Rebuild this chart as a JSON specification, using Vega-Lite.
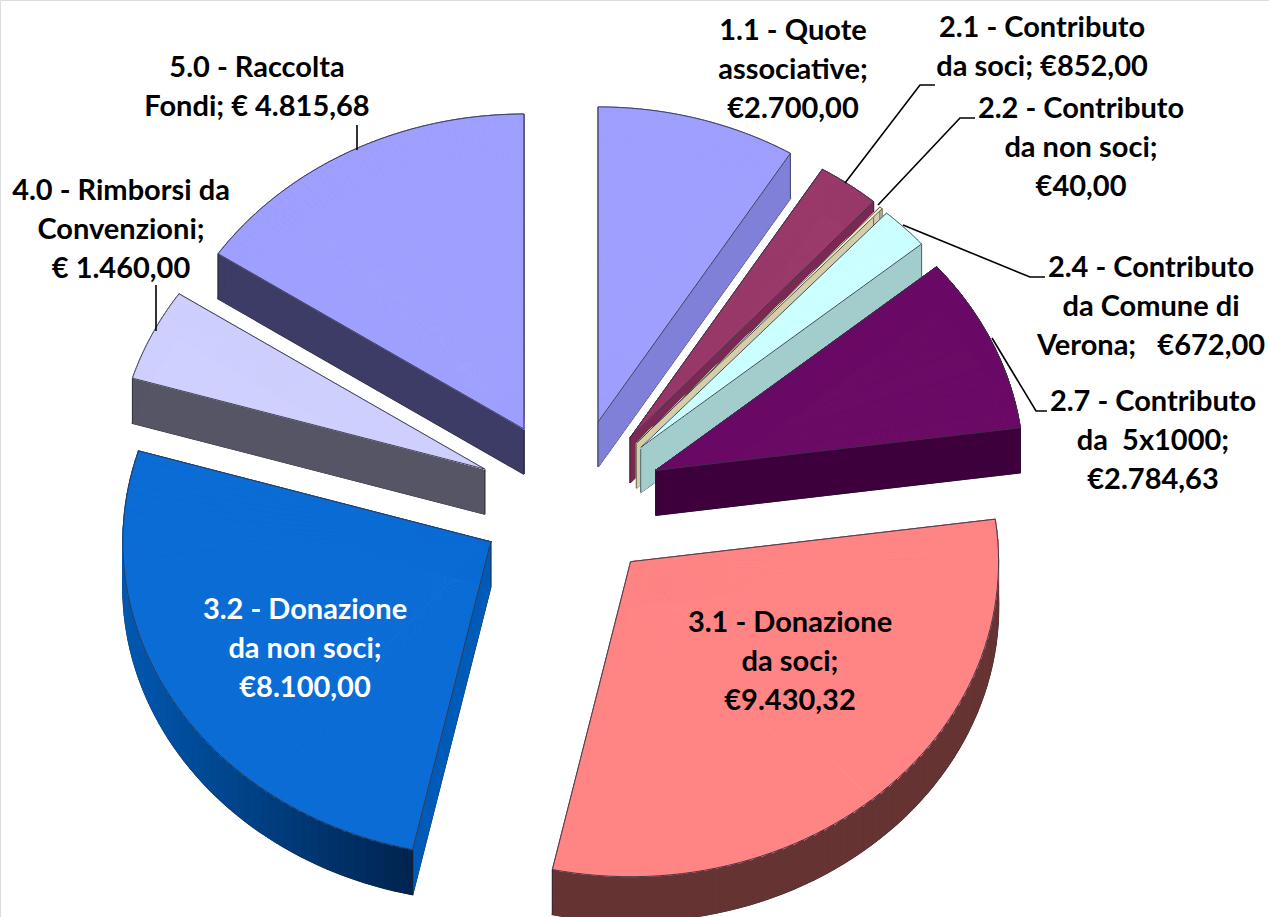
{
"$schema":"https://vega.github.io/schema/vega-lite/v6.json",
"width":1269,"height":917,"padding":0,"autosize":{"type":"none"},
"background":"white",
"data":{"values":[
{"code":"1.1","label":"1.1 - Quote\nassociative;\n€2.700,00","value":2700},
{"code":"2.1","label":"2.1 - Contributo\nda soci; €852,00","value":852},
{"code":"2.2","label":"2.2 - Contributo\nda non soci;\n€40,00","value":40},
{"code":"2.4","label":"2.4 - Contributo\nda Comune di\nVerona;\u00a0\u00a0 €672,00","value":672},
{"code":"2.7","label":"2.7 - Contributo\nda\u00a0 5x1000;\n€2.784,63","value":2784.63},
{"code":"3.1","label":"3.1 - Donazione\nda soci;\n€9.430,32","value":9430.32},
{"code":"3.2","label":"3.2 - Donazione\nda non soci;\n€8.100,00","value":8100},
{"code":"4.0","label":"4.0 - Rimborsi da\nConvenzioni;\n€ 1.460,00","value":1460},
{"code":"5.0","label":"5.0 - Raccolta\nFondi; € 4.815,68","value":4815.68}
]},
"transform":[
{"window":[{"op":"sum","field":"value","as":"cum"}],"sort":[{"field":"code"}],"frame":[null,0]},
{"joinaggregate":[{"op":"sum","field":"value","as":"total"}]},
{"calculate":"2*PI*(datum.cum-datum.value)/datum.total","as":"t0"},
{"calculate":"min(2*PI*datum.cum/datum.total,6.283185)","as":"t1"},
{"calculate":"atan2(1.168*sin(datum.t0),cos(datum.t0))","as":"d0"},
{"calculate":"atan2(1.168*sin(datum.t1),cos(datum.t1))","as":"d1"},
{"calculate":"(datum.d0<0?datum.d0+2*PI:datum.d0)/2+(datum.d1<0?datum.d1+2*PI:datum.d1)/2","as":"mid"},
{"calculate":"570+92*sin(datum.mid)","as":"ax"},
{"calculate":"500-82*cos(datum.mid)","as":"ay"},
{"calculate":"{'1.1':'#9f9fff','2.1':'#993a6a','2.2':'#f5f0c8','2.4':'#ccffff','2.7':'#6a0a66','3.1':'#ff8585','3.2':'#0a6cd4','4.0':'#d0d0ff','5.0':'#9f9fff'}[datum.code]","as":"topColor"},
{"calculate":"{'1.1':'#8080d8','2.1':'#7a2a52','2.2':'#d4cea6','2.4':'#a3cccc','2.7':'#3d003d','3.1':'#663333','3.2':'#005bb8','4.0':'#555566','5.0':'#3c3c66'}[datum.code]","as":"sideColor"}
],
"layer":[
{
"transform":[
{"calculate":"[-1,0,1,2,3,4,5,6,7,8,9,10,11,12,13,14,15,16,17,18,19,20,21,22,23,24,25,26,27,28,29,30,31,32,33,34,35,36,37,38,39,40,41,42,43,44,45,46,47,48,49,50,51,52,53,54,55,56,57,58,59,60]","as":"p"},
{"flatten":["p"]},
{"calculate":"[0,1]","as":"k"},
{"flatten":["k"]},
{"calculate":"datum.p+datum.k","as":"q"},
{"calculate":"datum.t0+(datum.t1-datum.t0)*clamp(datum.q,0,60)/60","as":"ta"},
{"calculate":"datum.t0+(datum.t1-datum.t0)*clamp(datum.q+1,0,60)/60","as":"tb"},
{"calculate":"(datum.q<0||datum.q>60)?datum.ax:datum.ax+368*sin(datum.ta)","as":"rx"},
{"calculate":"(datum.q<0||datum.q>60)?datum.ay:datum.ay-315*cos(datum.ta)","as":"ry"},
{"calculate":"datum.ry+45","as":"ry2"},
{"calculate":"atan2(1.168*sin(datum.ta),cos(datum.ta))","as":"ang0raw"},
{"calculate":"atan2(1.168*sin(datum.tb),cos(datum.tb))","as":"ang1raw"},
{"calculate":"datum.ang0raw<0?datum.ang0raw+2*PI:datum.ang0raw","as":"ang0"},
{"calculate":"datum.ang1raw<0?datum.ang1raw+2*PI:datum.ang1raw","as":"ang1"},
{"calculate":"sqrt(pow(368*sin((datum.ta+datum.tb)/2),2)+pow(315*cos((datum.ta+datum.tb)/2),2))","as":"rad"},
{"calculate":"clamp((datum.ax+368*sin(datum.t0+(datum.t1-datum.t0)*clamp(datum.p,0,60)/60)-126)/288,0,1)","as":"gr"},
{"calculate":"(datum.code=='3.2'&&datum.p>=0&&datum.p<60)?('rgb(0,'+round(88-52*datum.gr)+','+round(176-96*datum.gr)+')'):datum.sideColor","as":"wallColor"}
],
"layer":[
{"transform":[{"filter":"datum.k==0||datum.p==60"}],
 "mark":{"type":"line","color":"#222222","strokeWidth":1.4},
 "encoding":{
  "x":{"field":"rx","type":"quantitative","scale":{"domain":[0,1269],"range":[0,1269],"nice":false,"zero":false},"axis":null},
  "y":{"field":"ry2","type":"quantitative","scale":{"domain":[0,917],"range":[0,917],"nice":false,"zero":false},"axis":null},
  "order":{"field":"q","type":"quantitative"},
  "detail":{"field":"code"}
 }},
{"mark":{"type":"area","strokeWidth":1},
 "encoding":{
  "x":{"field":"rx","type":"quantitative","scale":{"domain":[0,1269],"range":[0,1269],"nice":false,"zero":false},"axis":null},
  "y":{"field":"ry","type":"quantitative","scale":{"domain":[0,917],"range":[0,917],"nice":false,"zero":false},"axis":null},
  "y2":{"field":"ry2"},
  "detail":[{"field":"code"},{"field":"p"}],
  "fill":{"field":"wallColor","type":"nominal","scale":null,"legend":null},
  "stroke":{"field":"wallColor","type":"nominal","scale":null,"legend":null}
 }},
{"transform":[{"filter":"datum.k==0&&(datum.p==0||datum.p==-1)||datum.k==1&&datum.p==59"}],
 "mark":{"type":"rule","color":"#222222","strokeWidth":0.6},
 "encoding":{
  "x":{"field":"rx","type":"quantitative","scale":{"domain":[0,1269],"range":[0,1269],"nice":false,"zero":false},"axis":null},
  "y":{"field":"ry","type":"quantitative","scale":{"domain":[0,917],"range":[0,917],"nice":false,"zero":false},"axis":null},
  "y2":{"field":"ry2"}
 }},
{"transform":[{"filter":"datum.k==0&&datum.p>=0&&datum.p<60"}],
 "mark":{"type":"arc","strokeWidth":1},
 "encoding":{
  "x":{"field":"ax","type":"quantitative","scale":{"domain":[0,1269],"range":[0,1269],"nice":false,"zero":false},"axis":null},
  "y":{"field":"ay","type":"quantitative","scale":{"domain":[0,917],"range":[0,917],"nice":false,"zero":false},"axis":null},
  "theta":{"field":"ang0","type":"quantitative","scale":{"domain":[0,6.283185307179586],"range":[0,6.283185307179586]}},
  "theta2":{"field":"ang1"},
  "radius":{"field":"rad","type":"quantitative","scale":{"type":"linear","domain":[0,500],"range":[0,500]}},
  "fill":{"field":"topColor","type":"nominal","scale":null,"legend":null},
  "stroke":{"field":"topColor","type":"nominal","scale":null,"legend":null}
 }},
{"transform":[{"filter":"datum.k==0||datum.p==60"}],
 "mark":{"type":"line","color":"#333344","strokeWidth":0.9},
 "encoding":{
  "x":{"field":"rx","type":"quantitative","scale":{"domain":[0,1269],"range":[0,1269],"nice":false,"zero":false},"axis":null},
  "y":{"field":"ry","type":"quantitative","scale":{"domain":[0,917],"range":[0,917],"nice":false,"zero":false},"axis":null},
  "order":{"field":"q","type":"quantitative"},
  "detail":{"field":"code"}
 }}
]},
{
"transform":[
{"calculate":"{'2.1':[[845,183,0],[920,85,1],[935,85,2]],'2.2':[[878,205,0],[960,118,1],[975,118,2]],'2.4':[[903,225,0],[1030,277,1],[1045,277,2]],'2.7':[[992,338,0],[1036,411,1],[1047,411,2]],'4.0':[[156,331,0],[156,285,1]],'5.0':[[357,150,0],[357,125,1]]}[datum.code]","as":"pt"},
{"filter":"isValid(datum.pt)"},
{"flatten":["pt"]},
{"calculate":"datum.pt[0]","as":"lx"},
{"calculate":"datum.pt[1]","as":"ly"},
{"calculate":"datum.pt[2]","as":"li"}
],
"mark":{"type":"line","color":"black","strokeWidth":1.6},
"encoding":{
 "x":{"field":"lx","type":"quantitative","scale":{"domain":[0,1269],"range":[0,1269],"nice":false,"zero":false},"axis":null},
 "y":{"field":"ly","type":"quantitative","scale":{"domain":[0,917],"range":[0,917],"nice":false,"zero":false},"axis":null},
 "order":{"field":"li","type":"quantitative"},
 "detail":{"field":"code"}
}},
{
"transform":[
{"calculate":"{'1.1':[793,40],'2.1':[1042,37],'2.2':[1081,118],'2.4':[1151,277],'2.7':[1153,411],'3.1':[790,632],'3.2':[305,619],'4.0':[121,200],'5.0':[257,77]}[datum.code]","as":"pos"},
{"calculate":"datum.pos[0]","as":"tx"},
{"calculate":"datum.pos[1]","as":"ty"}
],
"mark":{"type":"text","font":"Lato","fontWeight":"bold","fontSize":29,"lineHeight":39,"lineBreak":"\n","align":"center","baseline":"alphabetic"},
"encoding":{
 "x":{"field":"tx","type":"quantitative","scale":{"domain":[0,1269],"range":[0,1269],"nice":false,"zero":false},"axis":null},
 "y":{"field":"ty","type":"quantitative","scale":{"domain":[0,917],"range":[0,917],"nice":false,"zero":false},"axis":null},
 "text":{"field":"label"},
 "fill":{"condition":{"test":"datum.code=='3.2'","value":"white"},"value":"black"}
}}
]
}
